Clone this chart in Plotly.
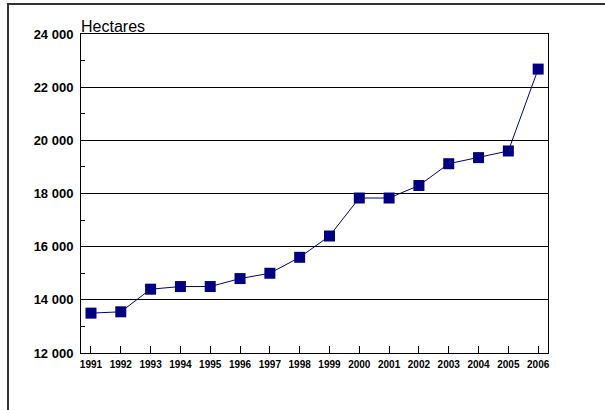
import plotly.graph_objects as go

years = ["1991", "1992", "1993", "1994", "1995", "1996", "1997", "1998",
         "1999", "2000", "2001", "2002", "2003", "2004", "2005", "2006"]
hectares = [13500, 13550, 14400, 14500, 14500, 14800, 15000, 15600,
            16400, 17830, 17830, 18300, 19120, 19350, 19600, 22680]
y_ticks = [12000, 14000, 16000, 18000, 20000, 22000, 24000]
y_tick_labels = ["12 000", "14 000", "16 000", "18 000", "20 000", "22 000", "24 000"]
unit_label = "Hectares"

NAVY = "#000080"
FONT = "Liberation Sans, Arial, sans-serif"

fig = go.Figure()
fig.add_trace(go.Scatter(
    x=years, y=hectares, mode="lines+markers",
    line=dict(color=NAVY, width=1),
    marker=dict(symbol="square", size=11, color=NAVY),
    showlegend=False, hoverinfo="x+y",
))

fig.update_layout(
    width=605, height=410,
    margin=dict(l=81, r=57, t=34, b=57),
    paper_bgcolor="white", plot_bgcolor="white",
    font=dict(family=FONT, color="black"),
    xaxis=dict(
        type="category", range=[-0.335, 15.33],
        showgrid=False, showline=True, linecolor="black", linewidth=1,
        mirror=True, ticks="inside", ticklen=7, tickcolor="black",
        tickfont=dict(family=FONT, size=10, color="black", weight="bold"),
        ticklabelstandoff=2,
        zeroline=False, fixedrange=True,
    ),
    yaxis=dict(
        range=[12000, 24000], tickvals=y_ticks, ticktext=y_tick_labels,
        showgrid=True, gridcolor="black", gridwidth=1,
        showline=True, linecolor="black", linewidth=1, mirror=True,
        ticks="inside", ticklen=4, tickcolor="black",
        minor=dict(dtick=1000, ticks="inside", ticklen=4, tickcolor="black", showgrid=False),
        tickfont=dict(family=FONT, size=13, color="black", weight="bold"),
        ticklabelstandoff=4,
        zeroline=False, fixedrange=True,
    ),
    annotations=[dict(
        text=unit_label, xref="paper", yref="paper", x=0, y=1,
        xanchor="left", yanchor="bottom", showarrow=False, xshift=-2, yshift=-3,
        font=dict(family=FONT, size=16, color="black"),
    )],
    shapes=[dict(
        type="rect", xref="paper", yref="paper",
        x0=(8 - 81) / 467, x1=1.4, y0=-0.5, y1=(353 - 4) / 319,
        line=dict(color="#333333", width=2), layer="below",
    )],
)

fig.write_html("out.html")
